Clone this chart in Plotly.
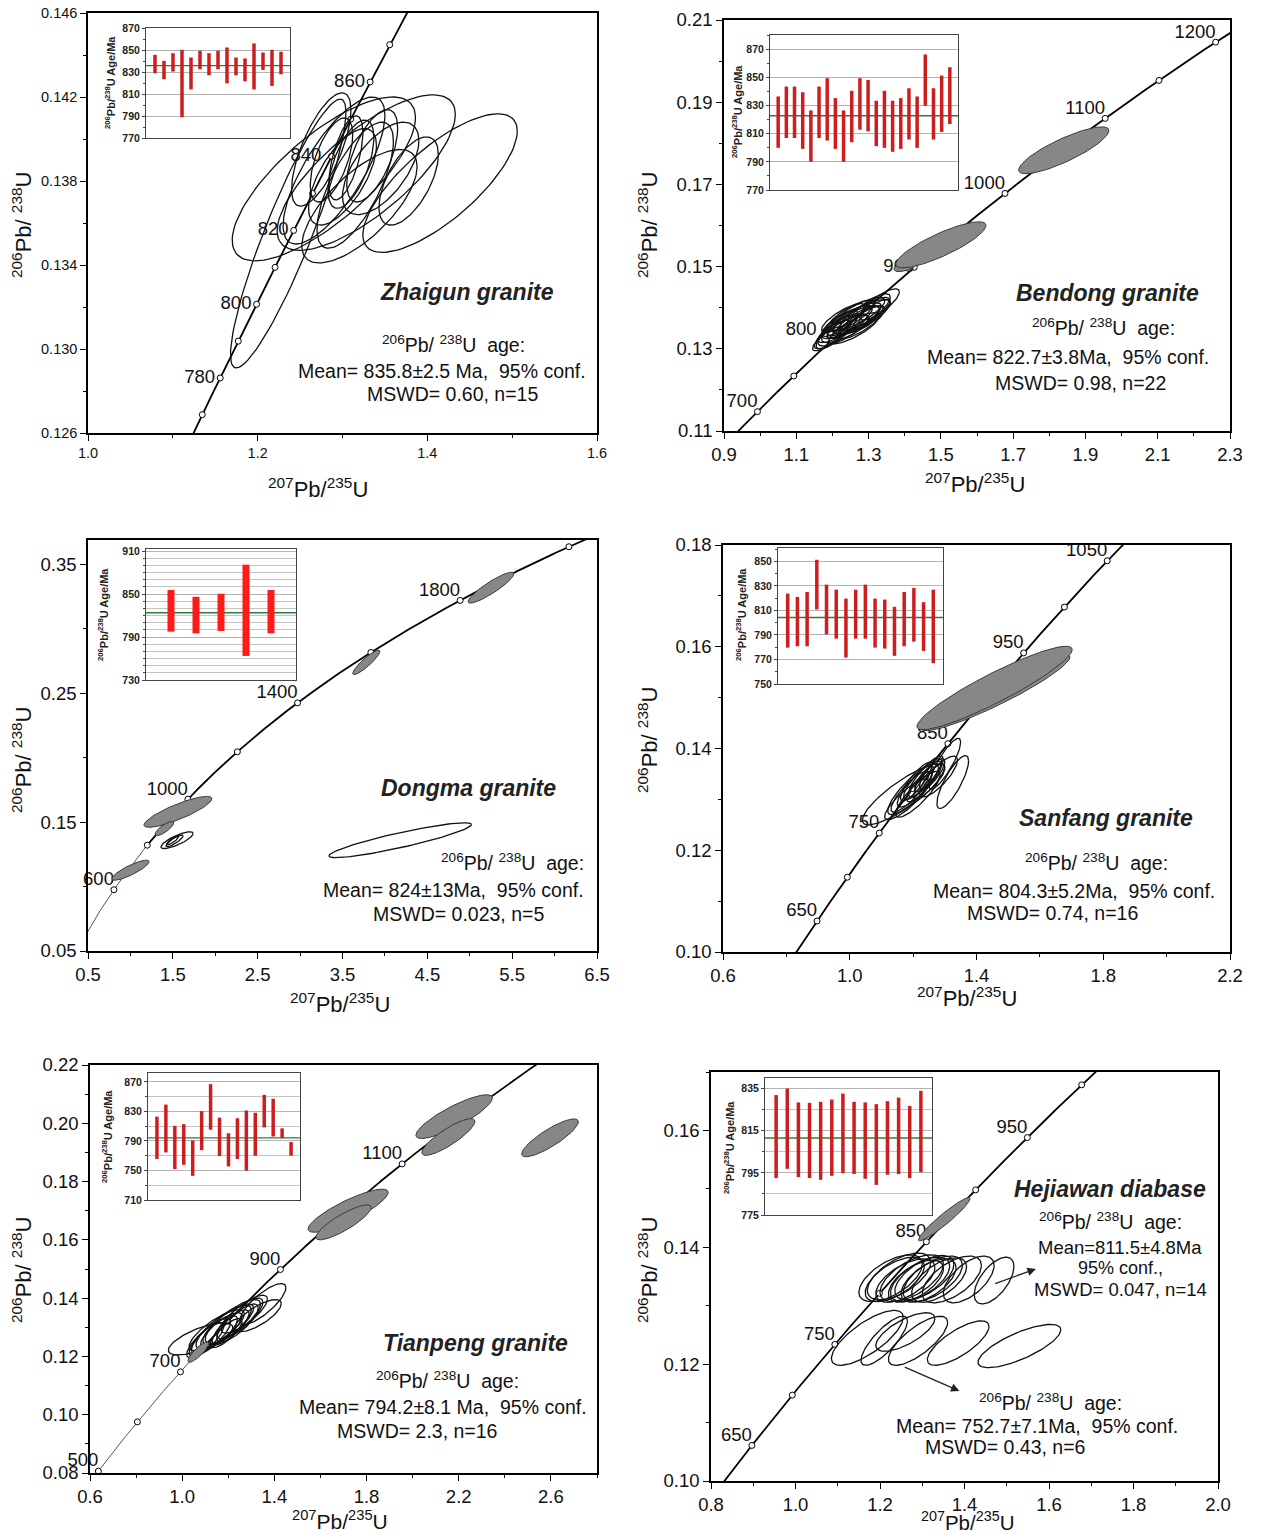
import numpy as np
import plotly.graph_objects as go

W, H = 1261, 1535
FONT = "Liberation Sans, Arial, sans-serif"

# U decay constants (per Ma) used for the concordia curve
LAMBDA_238 = 1.55125e-4
LAMBDA_235 = 9.8485e-4

# ---------------- (a) Zhaigun granite ----------------
zg_marker_ages = [770, 780, 790, 800, 810, 820, 830, 840, 850, 860, 870]
zg_label_ages = [780, 800, 820, 840, 860]
zg_cx = [1.236, 1.278, 1.328, 1.415, 1.378, 1.320, 1.304, 1.287, 1.310, 1.335, 1.300, 1.345, 1.275, 1.315, 1.290]
zg_cy = [0.1355, 0.1381, 0.1384, 0.1379, 0.1380, 0.1368, 0.1391, 0.1390, 0.1388, 0.1392, 0.1382, 0.1386, 0.1395, 0.1378, 0.1385]
zg_hx = [0.068, 0.108, 0.105, 0.091, 0.035, 0.068, 0.020, 0.025, 0.027, 0.030, 0.040, 0.045, 0.035, 0.045, 0.060]
zg_hy = [0.0064, 0.0039, 0.0037, 0.0033, 0.0021, 0.0027, 0.0020, 0.0020, 0.0021, 0.0022, 0.0023, 0.0022, 0.0027, 0.0030, 0.0035]
zg_rho = [0.90, 0.75, 0.75, 0.75, 0.60, 0.70, 0.60, 0.60, 0.60, 0.60, 0.65, 0.60, 0.70, 0.70, 0.75]
zg_fill = [0] * 15
zg_lo = [828.8, 823.4, 830.4, 788.9, 814.2, 832.5, 827.0, 832.5, 819.7, 827.0, 821.5, 814.2, 831.9, 817.3, 827.9]
zg_hi = [845.6, 840.1, 847.1, 850.2, 843.2, 849.3, 847.1, 849.3, 852.3, 843.2, 842.3, 856.0, 847.7, 850.2, 848.4]
zg_mean = 835.8

# ---------------- (b) Bendong granite ----------------
bd_marker_ages = [700, 750, 800, 850, 900, 950, 1000, 1050, 1100, 1150, 1200]
bd_label_ages = [700, 800, 900, 1000, 1100, 1200]
bd_cx = [1.40, 1.50, 1.84, 1.22, 1.24, 1.25, 1.23, 1.26, 1.28, 1.27, 1.29, 1.30, 1.21, 1.20, 1.25, 1.27, 1.28, 1.31, 1.24, 1.22, 1.26, 1.29, 1.23, 1.33, 1.19]
bd_cy = [0.1500, 0.1553, 0.1783, 0.1350, 0.1365, 0.1360, 0.1345, 0.1372, 0.1378, 0.1368, 0.1385, 0.1392, 0.1340, 0.1335, 0.1380, 0.1385, 0.1365, 0.1385, 0.1355, 0.1362, 0.1350, 0.1372, 0.1375, 0.1408, 0.1325]
bd_hx = [0.030, 0.125, 0.125, 0.060, 0.070, 0.080, 0.070, 0.075, 0.080, 0.060, 0.070, 0.060, 0.055, 0.050, 0.065, 0.075, 0.065, 0.050, 0.055, 0.050, 0.070, 0.050, 0.060, 0.055, 0.045]
bd_hy = [0.0012, 0.0056, 0.0057, 0.0035, 0.0040, 0.0045, 0.0038, 0.0040, 0.0042, 0.0035, 0.0040, 0.0042, 0.0040, 0.0035, 0.0038, 0.0040, 0.0040, 0.0035, 0.0030, 0.0032, 0.0038, 0.0032, 0.0035, 0.0038, 0.0030]
bd_rho = [0.5, 0.84, 0.84] + [0.8] * 22
bd_fill = [1, 1, 1] + [0] * 22
bd_lo = [799.9, 806.9, 806.9, 799.2, 790.0, 806.9, 805.1, 799.2, 790.0, 803.9, 812.8, 811.6, 801.1, 799.9, 797.1, 799.2, 805.8, 799.9, 829.8, 805.8, 811.2, 816.8]
bd_hi = [836.4, 843.4, 843.4, 839.4, 826.5, 843.4, 849.3, 835.2, 826.5, 840.4, 849.3, 848.1, 833.3, 840.4, 833.3, 835.2, 842.2, 836.4, 866.2, 842.2, 851.2, 857.1]
bd_mean = 822.7

# ---------------- (c) Dongma granite ----------------
dm_marker_ages = [600, 800, 1000, 1200, 1400, 1600, 1800, 2000]
dm_label_ages = [600, 1000, 1400, 1800]
dm_cx = [1.00, 1.56, 1.40, 3.78, 5.25, 4.18, 1.55, 1.52, 1.50]
dm_cy = [0.1127, 0.1580, 0.1450, 0.2740, 0.3320, 0.1360, 0.1360, 0.1355, 0.1360]
dm_hx = [0.22, 0.40, 0.11, 0.16, 0.27, 0.84, 0.19, 0.10, 0.07]
dm_hy = [0.0078, 0.0120, 0.0055, 0.0095, 0.0120, 0.0135, 0.0065, 0.0045, 0.0035]
dm_rho = [0.85, 0.85, 0.80, 0.90, 0.90, 0.90, 0.80, 0.85, 0.85]
dm_fill = [1, 1, 1, 1, 1, 0, 0, 0, 0]
dm_lo = [797.6, 795.2, 798.5, 763.6, 795.2]
dm_hi = [855.7, 846.2, 850.5, 891.1, 855.7]
dm_mean = 824.0

# ---------------- (d) Sanfang granite ----------------
sf_marker_ages = [650, 700, 750, 800, 850, 900, 950, 1000, 1050]
sf_label_ages = [650, 750, 850, 950, 1050]
sf_cx = [1.46, 1.457, 1.17, 1.325, 1.30, 1.22, 1.20, 1.23, 1.21, 1.24, 1.19, 1.25, 1.22, 1.215, 1.26, 1.28, 1.18, 1.235]
sf_cy = [0.1510, 0.1519, 0.1310, 0.1334, 0.1370, 0.1330, 0.1320, 0.1340, 0.1335, 0.1345, 0.1315, 0.1335, 0.1325, 0.1310, 0.1350, 0.1345, 0.1300, 0.1340]
sf_hx = [0.235, 0.245, 0.13, 0.050, 0.05, 0.07, 0.08, 0.06, 0.05, 0.055, 0.06, 0.05, 0.04, 0.07, 0.04, 0.06, 0.07, 0.03]
sf_hy = [0.0075, 0.0082, 0.0060, 0.0052, 0.0050, 0.0045, 0.0050, 0.0040, 0.0038, 0.0040, 0.0040, 0.0035, 0.0030, 0.0045, 0.0030, 0.0040, 0.0040, 0.0025]
sf_rho = [0.93, 0.92, 0.85, 0.80, 0.85, 0.85, 0.85, 0.85, 0.85, 0.85, 0.85, 0.85, 0.80, 0.85, 0.80, 0.80, 0.85, 0.80]
sf_fill = [1, 1] + [0] * 16
sf_lo = [779.7, 780.8, 780.8, 810.8, 790.5, 787.0, 771.6, 787.0, 787.0, 779.7, 778.9, 773.0, 780.8, 784.6, 777.0, 767.0]
sf_hi = [823.8, 821.1, 825.1, 851.4, 831.1, 827.0, 819.7, 827.0, 831.1, 819.7, 818.9, 813.0, 825.1, 828.4, 816.8, 827.0]
sf_mean = 804.3

# ---------------- (e) Tianpeng granite ----------------
tp_marker_ages = [500, 600, 700, 800, 900, 1000, 1100, 1200]
tp_label_ages = [500, 700, 900, 1100]
tp_cx = [2.18, 2.155, 2.596, 1.72, 1.70, 1.07,
         1.08, 1.35, 1.33, 1.15, 1.18, 1.20, 1.22, 1.14, 1.25, 1.17, 1.21, 1.24, 1.12, 1.27, 1.10, 1.19]
tp_cy = [0.2023, 0.1953, 0.1950, 0.1700, 0.1660, 0.1215,
         0.1260, 0.1380, 0.1340, 0.1290, 0.1300, 0.1310, 0.1320, 0.1275, 0.1330, 0.1290, 0.1300, 0.1315, 0.1265, 0.1345, 0.1255, 0.1280]
tp_hx = [0.166, 0.115, 0.123, 0.174, 0.120, 0.045,
         0.14, 0.10, 0.10, 0.12, 0.12, 0.11, 0.12, 0.10, 0.10, 0.09, 0.08, 0.09, 0.09, 0.10, 0.08, 0.07]
tp_hy = [0.0075, 0.0063, 0.0065, 0.0074, 0.0060, 0.0035,
         0.0055, 0.0070, 0.0055, 0.0070, 0.0075, 0.0070, 0.0075, 0.0065, 0.0070, 0.0060, 0.0060, 0.0065, 0.0065, 0.0065, 0.0060, 0.0050]
tp_rho = [0.85, 0.85, 0.85, 0.85, 0.85, 0.85, 0.70, 0.80, 0.75] + [0.8] * 13
tp_fill = [1, 1, 1, 1, 1, 1] + [0] * 16
tp_lo = [765.6, 774.4, 751.9, 757.7, 742.7, 777.5, 805.2, 769.6, 755.5, 765.6, 749.7, 770.0, 808.3, 796.0, 793.8, 770.0]
tp_hi = [822.9, 839.2, 810.5, 812.7, 790.7, 830.4, 866.9, 821.5, 800.4, 820.7, 831.2, 828.1, 852.4, 847.1, 807.0, 788.5]
tp_mean = 794.2

# ---------------- (f) Hejiawan diabase ----------------
hj_marker_ages = [650, 700, 750, 800, 850, 900, 950, 1000]
hj_label_ages = [650, 750, 850, 950]
hj_cx = [1.352,
         1.225, 1.235, 1.245, 1.260, 1.275, 1.285, 1.295, 1.305, 1.315, 1.325, 1.340, 1.370, 1.410, 1.470,
         1.170, 1.210, 1.260, 1.290, 1.385, 1.530]
hj_cy = [0.1448,
         0.1347, 0.1345, 0.1350, 0.1343, 0.1347, 0.1342, 0.1345, 0.1348, 0.1343, 0.1346, 0.1344, 0.1345, 0.1345, 0.1343,
         0.1245, 0.1240, 0.1255, 0.1240, 0.1236, 0.1231]
hj_hx = [0.061,
         0.075, 0.070, 0.075, 0.070, 0.075, 0.065, 0.070, 0.070, 0.065, 0.070, 0.065, 0.070, 0.060, 0.047,
         0.085, 0.055, 0.070, 0.070, 0.073, 0.098]
hj_hy = [0.0037,
         0.0040, 0.0038, 0.0040, 0.0037, 0.0040, 0.0036, 0.0038, 0.0038, 0.0037, 0.0039, 0.0038, 0.0040, 0.0040, 0.0040,
         0.0047, 0.0042, 0.0033, 0.0042, 0.0038, 0.0037]
hj_rho = [0.95] + [0.6] * 14 + [0.75, 0.8, 0.7, 0.75, 0.75, 0.75]
hj_fill = [1] + [0] * 20
hj_lo = [792.5, 796.9, 793.0, 792.5, 791.7, 793.6, 794.8, 794.5, 792.2, 789.3, 794.1, 794.4, 792.5, 795.3]
hj_hi = [831.9, 835.0, 828.4, 828.2, 828.7, 829.8, 832.6, 828.7, 828.4, 827.6, 829.0, 830.7, 826.7, 833.9]
hj_mean = 811.5
hj_arrow_tail_x = [1.469, 1.255]
hj_arrow_tail_y = [0.1337, 0.1196]
hj_arrow_head_x = [1.569, 1.388]
hj_arrow_head_y = [0.1363, 0.1154]

SUP_AGE = "<sup>206</sup>Pb/ <sup>238</sup>U\u00a0\u00a0age:"
NB = "\u00a0\u00a0"
STAT_FS = 19.5
NAME_FS = 23

panels = [
    dict(mk=zg_marker_ages, lb=zg_label_ages, cx=zg_cx, cy=zg_cy, hx=zg_hx, hy=zg_hy, rho=zg_rho, fill=zg_fill,
         lo=zg_lo, hi=zg_hi, mean=zg_mean,
         frame=(88, 597, 13, 433), inset=(146, 290, 28, 138),
         xr=[1.0, 1.6], yr=[0.126, 0.146], xt=(1.0, 0.2, 0.1, ".1f"), yt=(0.126, 0.004, 0.002, ".3f"),
         tfs=14.5, lfs=18.5, ages=(740, 900), thin=None, lpos=["middle left"] * 5, lpad=[1, 1, 1, 2, 1],
         iy=([770, 870], 770, 20, 10, False), ititle=(110, 83),
         title=("Zhaigun granite", 467, 292),
         stats=[(SUP_AGE, 453, 344, STAT_FS), ("Mean= 835.8±2.5 Ma," + NB + "95% conf.", 442, 371, STAT_FS),
                ("MSWD= 0.60, n=15", 452, 394, STAT_FS)],
         xtitle=(318, 488, 22), ytitle=(22, 225), afs=22, wide=False),
    dict(mk=bd_marker_ages, lb=bd_label_ages, cx=bd_cx, cy=bd_cy, hx=bd_hx, hy=bd_hy, rho=bd_rho, fill=bd_fill,
         lo=bd_lo, hi=bd_hi, mean=bd_mean,
         frame=(724, 1230, 20, 431), inset=(770, 958, 35, 190),
         xr=[0.9, 2.3], yr=[0.11, 0.21], xt=(0.9, 0.2, 0.1, ".1f"), yt=(0.11, 0.02, 0.01, ".2f"),
         tfs=18.5, lfs=18.5, ages=(600, 1300), thin=None,
         lpos=["top left", "top left", "middle left", "top left", "top left", "top left"], lpad=[0, 3, 0, 0, 0, 0],
         iy=([770, 880], 770, 20, 10, False), ititle=(737, 112),
         title=("Bendong granite", 1107, 293),
         stats=[(SUP_AGE, 1103, 327, STAT_FS), ("Mean= 822.7±3.8Ma," + NB + "95% conf.", 1068, 357, STAT_FS),
                ("MSWD= 0.98, n=22", 1080, 383, STAT_FS)],
         xtitle=(975, 483, 22), ytitle=(648, 225), afs=22, wide=False),
    dict(mk=dm_marker_ages, lb=dm_label_ages, cx=dm_cx, cy=dm_cy, hx=dm_hx, hy=dm_hy, rho=dm_rho, fill=dm_fill,
         lo=dm_lo, hi=dm_hi, mean=dm_mean,
         frame=(88, 597, 540, 951), inset=(146, 296, 549, 680),
         xr=[0.5, 6.5], yr=[0.05, 0.369], xt=(0.5, 1.0, 0.5, ".1f"), yt=(0.05, 0.1, 0.05, ".2f"),
         tfs=18.5, lfs=18.5, ages=(300, 2200), thin=800, lpos=["top left"] * 4, lpad=[0] * 4,
         iy=([730, 913], 730, 60, 10, True), ititle=(103, 615),
         title=("Dongma granite", 468, 788),
         stats=[(SUP_AGE, 512, 862, STAT_FS), ("Mean= 824±13Ma," + NB + "95% conf.", 453, 890, STAT_FS),
                ("MSWD= 0.023, n=5", 458, 914, STAT_FS)],
         xtitle=(340, 1003, 22), ytitle=(22, 760), afs=22, wide=True),
    dict(mk=sf_marker_ages, lb=sf_label_ages, cx=sf_cx, cy=sf_cy, hx=sf_hx, hy=sf_hy, rho=sf_rho, fill=sf_fill,
         lo=sf_lo, hi=sf_hi, mean=sf_mean,
         frame=(723, 1230, 545, 952), inset=(778, 943, 548, 684),
         xr=[0.6, 2.2], yr=[0.10, 0.18], xt=(0.6, 0.4, 0.2, ".1f"), yt=(0.10, 0.02, 0.01, ".2f"),
         tfs=18.5, lfs=18.5, ages=(550, 1150), thin=None, lpos=["top left"] * 5, lpad=[0] * 5,
         iy=([750, 861], 750, 20, 10, False), ititle=(741, 615),
         title=("Sanfang granite", 1106, 818),
         stats=[(SUP_AGE, 1096, 862, STAT_FS), ("Mean= 804.3±5.2Ma," + NB + "95% conf.", 1074, 891, STAT_FS),
                ("MSWD= 0.74, n=16", 1052, 913, STAT_FS)],
         xtitle=(967, 997, 22), ytitle=(648, 740), afs=22, wide=False),
    dict(mk=tp_marker_ages, lb=tp_label_ages, cx=tp_cx, cy=tp_cy, hx=tp_hx, hy=tp_hy, rho=tp_rho, fill=tp_fill,
         lo=tp_lo, hi=tp_hi, mean=tp_mean,
         frame=(90, 597, 1065, 1473), inset=(148, 300, 1073, 1200),
         xr=[0.6, 2.8], yr=[0.08, 0.22], xt=(0.6, 0.4, 0.2, ".1f"), yt=(0.08, 0.02, 0.01, ".2f"),
         tfs=18.5, lfs=18.5, ages=(400, 1300), thin=720, lpos=["top left"] * 4, lpad=[0] * 4,
         iy=([710, 882], 710, 40, 20, True), ititle=(107, 1137),
         title=("Tianpeng granite", 475, 1343),
         stats=[(SUP_AGE, 447, 1380, STAT_FS), ("Mean= 794.2±8.1 Ma," + NB + "95% conf.", 443, 1407, STAT_FS),
                ("MSWD= 2.3, n=16", 417, 1431, STAT_FS)],
         xtitle=(340, 1520, 21), ytitle=(22, 1270), afs=22, wide=False),
    dict(mk=hj_marker_ages, lb=hj_label_ages, cx=hj_cx, cy=hj_cy, hx=hj_hx, hy=hj_hy, rho=hj_rho, fill=hj_fill,
         lo=hj_lo, hi=hj_hi, mean=hj_mean,
         frame=(711, 1218, 1072, 1481), inset=(765, 932, 1078, 1215),
         xr=[0.8, 2.0], yr=[0.10, 0.17], xt=(0.8, 0.2, 0.1, ".1f"), yt=(0.10, 0.02, 0.01, ".2f"),
         tfs=18.5, lfs=18.5, ages=(600, 1100), thin=None, lpos=["top left"] * 4, lpad=[0] * 4,
         iy=([775, 840], 775, 20, 10, True), ititle=(729, 1147),
         title=("Hejiawan diabase", 1110, 1189),
         stats=[(SUP_AGE, 1110, 1221, STAT_FS), ("Mean=811.5±4.8Ma", 1120, 1247, 18.5),
                ("95% conf.,", 1120, 1268, 18), ("MSWD= 0.047, n=14", 1120, 1289, 18.5),
                (SUP_AGE, 1050, 1402, STAT_FS), ("Mean= 752.7±7.1Ma," + NB + "95% conf.", 1037, 1426, STAT_FS),
                ("MSWD= 0.43, n=6", 1005, 1447, STAT_FS)],
         xtitle=(967, 1521, 20.5), ytitle=(648, 1270), afs=22, wide=False),
]


def concordia(ages):
    t = np.asarray(ages, dtype=float)
    return np.exp(LAMBDA_235 * t) - 1.0, np.exp(LAMBDA_238 * t) - 1.0


def ellipse_xy(cx, cy, hx, hy, rho, n=100):
    t = np.linspace(0, 2 * np.pi, n)
    x = cx + hx * np.cos(t)
    y = cy + hy * (rho * np.cos(t) + np.sqrt(1 - rho ** 2) * np.sin(t))
    return x, y


def ax_id(i):
    return ("x" if i == 1 else f"x{i}"), ("y" if i == 1 else f"y{i}")


def ax_key(i):
    return ("xaxis" if i == 1 else f"xaxis{i}"), ("yaxis" if i == 1 else f"yaxis{i}")


fig = go.Figure()
layout = {}
annotations = []

for k, p in enumerate(panels):
    m = k + 1
    s = k + 7
    xa, ya = ax_id(m)
    xi, yi = ax_id(s)
    xk, yk = ax_key(m)
    xik, yik = ax_key(s)
    L, R, T, B = p["frame"]

    # concordia curve
    t = np.arange(p["ages"][0], p["ages"][1] + 1, 1.0)
    if p["thin"] is None:
        cxv, cyv = concordia(t)
        fig.add_trace(go.Scatter(x=cxv, y=cyv, mode="lines", line=dict(color="black", width=1.8),
                                 xaxis=xa, yaxis=ya, hoverinfo="skip"))
    else:
        t1 = t[t <= p["thin"]]
        t2 = t[t >= p["thin"]]
        c1x, c1y = concordia(t1)
        c2x, c2y = concordia(t2)
        fig.add_trace(go.Scatter(x=c1x, y=c1y, mode="lines", line=dict(color="#555555", width=1.0),
                                 xaxis=xa, yaxis=ya, hoverinfo="skip"))
        fig.add_trace(go.Scatter(x=c2x, y=c2y, mode="lines", line=dict(color="black", width=1.8),
                                 xaxis=xa, yaxis=ya, hoverinfo="skip"))

    # age markers on the concordia
    mx, my = concordia(p["mk"])
    fig.add_trace(go.Scatter(x=mx, y=my, mode="markers",
                             marker=dict(symbol="circle", size=6, color="white", line=dict(color="black", width=1)),
                             xaxis=xa, yaxis=ya, hoverinfo="skip"))

    ell = list(zip(p["cx"], p["cy"], p["hx"], p["hy"], p["rho"], p["fill"]))
    # open error ellipses
    for cx, cy, hx, hy, rho, f in ell:
        if not f:
            ex, ey = ellipse_xy(cx, cy, hx, hy, rho)
            fig.add_trace(go.Scatter(x=ex, y=ey, mode="lines",
                                     line=dict(color="#111111", width=1.3), xaxis=xa, yaxis=ya, hoverinfo="skip"))

    # age labels
    lx, ly = concordia(p["lb"])
    fig.add_trace(go.Scatter(x=lx, y=ly, mode="text",
                             text=[str(a) + "\u00a0" * pd for a, pd in zip(p["lb"], p["lpad"])],
                             textposition=p["lpos"], cliponaxis=False,
                             textfont=dict(family=FONT, size=p["lfs"], color="#111111"),
                             xaxis=xa, yaxis=ya, hoverinfo="skip"))

    # grey (excluded / discordant) ellipses
    for cx, cy, hx, hy, rho, f in ell:
        if f:
            ex, ey = ellipse_xy(cx, cy, hx, hy, rho)
            fig.add_trace(go.Scatter(x=ex, y=ey, mode="lines", fill="toself", fillcolor="#878787",
                                     line=dict(color="#3a3a3a", width=1.0), xaxis=xa, yaxis=ya, hoverinfo="skip"))

    # inset: weighted-mean age bars
    n = len(p["lo"])
    idx = np.arange(1, n + 1)
    bx, by = [], []
    for i_, lo_, hi_ in zip(idx, p["lo"], p["hi"]):
        bx += [int(i_), int(i_), None]
        by += [lo_, hi_, None]
    fig.add_trace(go.Scatter(x=[0, n + 1], y=[p["mean"], p["mean"]], mode="lines",
                             line=dict(color="#2e7d3a", width=1.4), xaxis=xi, yaxis=yi, hoverinfo="skip"))
    fig.add_trace(go.Scatter(x=bx, y=by, mode="lines",
                             line=dict(color="#ff1a1a" if p["wide"] else "#cc1e1e", width=7 if p["wide"] else 3.5),
                             xaxis=xi, yaxis=yi, hoverinfo="skip"))

    x0, dx, mdx, xf = p["xt"]
    y0, dy, mdy, yf = p["yt"]
    layout[xk] = dict(domain=[L / W, R / W], range=p["xr"], anchor=ya, tick0=x0, dtick=dx, tickformat=xf,
                      automargin=False,
                      ticks="outside", ticklen=6, tickwidth=1.2, tickcolor="black",
                      showline=True, mirror=True, linecolor="black", linewidth=1.5,
                      showgrid=False, zeroline=False,
                      minor=dict(tick0=x0, dtick=mdx, ticks="outside", ticklen=3, tickcolor="black", showgrid=False),
                      tickfont=dict(family=FONT, size=p["tfs"], color="#111111"))
    layout[yk] = dict(domain=[1 - B / H, 1 - T / H], range=p["yr"], anchor=xa, tick0=y0, dtick=dy, tickformat=yf,
                      automargin=False,
                      ticks="outside", ticklen=6, tickwidth=1.2, tickcolor="black",
                      showline=True, mirror=True, linecolor="black", linewidth=1.5,
                      showgrid=False, zeroline=False,
                      minor=dict(tick0=y0, dtick=mdy, ticks="outside", ticklen=3, tickcolor="black", showgrid=False),
                      tickfont=dict(family=FONT, size=p["tfs"], color="#111111"))

    iL, iR, iT, iB = p["inset"]
    irange, it0, idt, imdt, igrid = p["iy"]
    layout[xik] = dict(domain=[iL / W, iR / W], range=[0, n + 1], anchor=yi, showticklabels=False, ticks="",
                       automargin=False,
                       showline=True, mirror=True, linecolor="#444444", linewidth=1, showgrid=False, zeroline=False)
    layout[yik] = dict(domain=[1 - iB / H, 1 - iT / H], range=irange, anchor=xi, tick0=it0, dtick=idt,
                       automargin=False,
                       ticks="outside", ticklen=3, tickcolor="#444444", tickwidth=1,
                       showline=True, mirror=True, linecolor="#444444", linewidth=1,
                       showgrid=True, gridcolor="#b4b4b4", gridwidth=1, zeroline=False,
                       minor=dict(tick0=it0, dtick=imdt, ticks="outside", ticklen=2, tickcolor="#444444",
                                  showgrid=igrid, gridcolor="#c4c4c4", gridwidth=1),
                       tickfont=dict(family=FONT, size=10.5, color="#222222", weight="bold"))

    # inset y title
    tx, ty = p["ititle"]
    annotations.append(dict(text="<sup>206</sup>Pb/<sup>238</sup>U Age/Ma", x=tx / W, y=1 - ty / H,
                            xref="paper", yref="paper", showarrow=False, textangle=-90,
                            xanchor="center", yanchor="middle",
                            font=dict(family=FONT, size=11, color="#222222", weight="bold")))
    # sample name
    nm, nx, ny = p["title"]
    annotations.append(dict(text=f"<b><i>{nm}</i></b>", x=nx / W, y=1 - ny / H, xref="paper", yref="paper",
                            showarrow=False, xanchor="center", yanchor="middle",
                            font=dict(family=FONT, size=NAME_FS, color="#222222")))
    for txt, sx, sy, fs in p["stats"]:
        annotations.append(dict(text=txt, x=sx / W, y=1 - sy / H, xref="paper", yref="paper",
                                showarrow=False, xanchor="center", yanchor="middle",
                                font=dict(family=FONT, size=fs, color="#111111")))
    # axis titles
    ax_, ay_, xfs = p["xtitle"]
    annotations.append(dict(text="<sup>207</sup>Pb/<sup>235</sup>U", x=ax_ / W, y=1 - ay_ / H,
                            xref="paper", yref="paper", showarrow=False, xanchor="center", yanchor="middle",
                            font=dict(family=FONT, size=xfs, color="#111111")))
    ax_, ay_ = p["ytitle"]
    annotations.append(dict(text="<sup>206</sup>Pb/ <sup>238</sup>U", x=ax_ / W, y=1 - ay_ / H,
                            xref="paper", yref="paper", showarrow=False, textangle=-90,
                            xanchor="center", yanchor="middle",
                            font=dict(family=FONT, size=p["afs"], color="#111111")))

# arrows in Hejiawan panel
for tx_, ty_, hx_, hy_ in zip(hj_arrow_tail_x, hj_arrow_tail_y, hj_arrow_head_x, hj_arrow_head_y):
    annotations.append(dict(x=hx_, y=hy_, ax=tx_, ay=ty_, xref="x6", yref="y6", axref="x6", ayref="y6",
                            text="", showarrow=True, arrowhead=2, arrowsize=1.3, arrowwidth=1.3,
                            arrowcolor="#222222"))

fig.update_layout(**layout)
fig.update_layout(width=W, height=H, margin=dict(l=0, r=0, t=0, b=0, autoexpand=False),
                  plot_bgcolor="white", paper_bgcolor="white", showlegend=False,
                  annotations=annotations, font=dict(family=FONT))
fig.write_html("out.html", config={"displayModeBar": False},
               post_script="document.body.style.margin='0';document.body.style.padding='0';")
